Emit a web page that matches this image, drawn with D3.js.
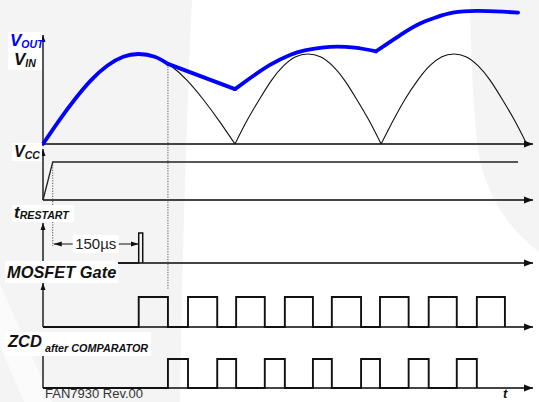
<!DOCTYPE html>
<html>
<head>
<meta charset="utf-8">
<script src="https://cdn.jsdelivr.net/npm/d3@7"></script>
<style>
  html, body { margin: 0; padding: 0; background: #fff; }
  svg { display: block; }
  text { font-family: "Liberation Sans", Arial, sans-serif; }
</style>
</head>
<body>
<svg id="chart" width="539" height="402"></svg>
<script>
// ---- timing data (microseconds) and normalised levels ----
// rectified line voltage, one array pair per half-cycle
const vinHump1T = [0, 28, 56, 84, 112, 140, 167, 195, 223, 251, 279, 307, 335];
const vinHump1V = [0, 0.26, 0.50, 0.71, 0.87, 0.97, 1.00, 0.97, 0.87, 0.71, 0.50, 0.26, 0];
const vinHump2T = [335, 356, 378, 399, 420, 441, 462, 484, 505, 526, 547, 569, 590];
const vinHump2V = [0, 0.26, 0.50, 0.71, 0.87, 0.97, 1.00, 0.97, 0.87, 0.71, 0.50, 0.26, 0];
const vinHump3T = [590, 611, 632, 654, 675, 696, 717, 738, 759, 780, 801, 823, 844];
const vinHump3V = [0, 0.26, 0.50, 0.71, 0.87, 0.97, 1.00, 0.97, 0.87, 0.71, 0.50, 0.26, 0];

// output voltage: charge through the line, hold-up droop, then boost steps
const voutChargeT = [0, 28, 56, 84, 112, 140, 167, 195, 218];
const voutChargeV = [0, 0.26, 0.50, 0.71, 0.87, 0.97, 1.00, 0.97, 0.89];
const voutDroopT  = [218, 335];
const voutDroopV  = [0.89, 0.61];
const voutRise1T  = [335, 361, 396, 431, 457, 501, 544, 581];
const voutRise1V  = [0.61, 0.73, 0.88, 0.99, 1.04, 1.08, 1.07, 1.03];
const voutRise2T  = [581, 628, 658, 687, 715, 757, 802, 829];
const voutRise2V  = [1.03, 1.23, 1.34, 1.41, 1.46, 1.48, 1.47, 1.46];

// supply rail
const vccT = [0, 17, 829];
const vccV = [0, 1, 1];

// restart timer pulse and its delay from VCC good
const restartPulse = [167, 174];
const restartDelayUs = 150;
const restartDelayLabel = "150µs";

// gate drive and ZCD comparator output (on-intervals)
const gateOn = [[167, 218], [253, 304], [337, 387], [422, 471], [504, 555], [588, 638], [673, 722], [757, 806]];
const zcdOn  = [[218, 253], [304, 337], [387, 422], [471, 504], [555, 588], [638, 673], [722, 757]];

const tEnd = 855;

// ---- layout ----
const svg = d3.select("#chart");
const x = d3.scaleLinear().domain([0, tEnd]).range([43, 533]);
const axisX0 = x(0);

const yTop   = d3.scaleLinear().domain([0, 1]).range([144, 54]);
const yVcc   = d3.scaleLinear().domain([0, 1]).range([200, 162]);
const yRst   = d3.scaleLinear().domain([0, 1]).range([263, 233]);
const yGate  = d3.scaleLinear().domain([0, 1]).range([327, 297]);
const yZcd   = d3.scaleLinear().domain([0, 1]).range([388, 359]);

// ---- background watermark ----
const bg = svg.append("g");
bg.append("rect").attr("width", 539).attr("height", 402).attr("fill", "#fff");
bg.append("path").attr("d", "M0,0 L192,0 C186,130 182,270 180,402 L0,402 Z").attr("fill", "#f4f4f4");
bg.append("path").attr("d", "M0,284 L52,402 L24,402 L0,346 Z").attr("fill", "#fbfbfb");
bg.append("path").attr("d", "M470,0 L539,0 L539,252 C510,230 486,198 478,150 C473,110 471,60 470,0 Z").attr("fill", "#f4f4f4");

// ---- arrow markers ----
const defs = svg.append("defs");
defs.append("marker").attr("id", "arrX")
  .attr("markerUnits", "userSpaceOnUse").attr("markerWidth", 10).attr("markerHeight", 8)
  .attr("refX", 9).attr("refY", 4).attr("orient", "auto")
  .append("path").attr("d", "M0,0.5 L9,4 L0,7.5 Z").attr("fill", "#111");
defs.append("marker").attr("id", "arrY")
  .attr("markerUnits", "userSpaceOnUse").attr("markerWidth", 8).attr("markerHeight", 6)
  .attr("refX", 7).attr("refY", 3).attr("orient", "auto")
  .append("path").attr("d", "M0,0.5 L7,3 L0,5.5 Z").attr("fill", "#111");
defs.append("marker").attr("id", "arrDim")
  .attr("markerUnits", "userSpaceOnUse").attr("markerWidth", 9).attr("markerHeight", 6)
  .attr("refX", 8).attr("refY", 3).attr("orient", "auto-start-reverse")
  .append("path").attr("d", "M0,0.5 L8,3 L0,5.5 Z").attr("fill", "#111");

// ---- axes (one pair per trace) ----
const panels = [
  { y: yTop,  yAxisTop: 35,  xAxisEnd: 533 },
  { y: yVcc,  yAxisTop: 149, xAxisEnd: 533 },
  { y: yRst,  yAxisTop: 223, xAxisEnd: 533 },
  { y: yGate, yAxisTop: 283, xAxisEnd: 533 },
  { y: yZcd,  yAxisTop: 344, xAxisEnd: 533 }
];
const axes = svg.append("g");
panels.forEach(p => {
  const base = p.y(0);
  axes.append("line")
    .attr("x1", axisX0).attr("y1", base).attr("x2", p.xAxisEnd).attr("y2", base)
    .attr("stroke", "#444").attr("stroke-width", 1.8).attr("marker-end", "url(#arrX)");
  axes.append("line")
    .attr("x1", axisX0).attr("y1", base).attr("x2", axisX0).attr("y2", p.yAxisTop)
    .attr("stroke", "#444").attr("stroke-width", 1.8).attr("marker-end", "url(#arrY)");
});

const zip = (ts, vs) => ts.map((t, i) => [t, vs[i]]);

// ---- top trace: VIN and VOUT ----
const lineTop = d3.line().x(d => x(d[0])).y(d => yTop(d[1])).curve(d3.curveNatural);
[[vinHump1T, vinHump1V], [vinHump2T, vinHump2V], [vinHump3T, vinHump3V]].forEach(([ts, vs]) => {
  svg.append("path").attr("d", lineTop(zip(ts, vs)))
    .attr("fill", "none").attr("stroke", "#111").attr("stroke-width", 1.1);
});

// dotted markers
const dots = svg.append("g").attr("stroke", "#555").attr("stroke-width", 1).attr("stroke-dasharray", "1.2,1.4");
dots.append("line").attr("x1", x(vccT[1])).attr("x2", x(vccT[1]))
  .attr("y1", yVcc(1)).attr("y2", 246);
dots.append("line").attr("x1", x(voutChargeT[voutChargeT.length - 1])).attr("x2", x(voutChargeT[voutChargeT.length - 1]))
  .attr("y1", yTop(voutChargeV[voutChargeV.length - 1])).attr("y2", 289);

const voutSegs = [
  [voutChargeT, voutChargeV, d3.curveNatural],
  [voutDroopT, voutDroopV, d3.curveLinear],
  [voutRise1T, voutRise1V, d3.curveNatural],
  [voutRise2T, voutRise2V, d3.curveNatural]
];
voutSegs.forEach(([ts, vs, c]) => {
  svg.append("path")
    .attr("d", d3.line().x(d => x(d[0])).y(d => yTop(d[1])).curve(c)(zip(ts, vs)))
    .attr("fill", "none").attr("stroke", "#0000ff").attr("stroke-width", 3.8)
    .attr("stroke-linejoin", "round").attr("stroke-linecap", "round");
});

// ---- VCC ----
svg.append("path")
  .attr("d", d3.line().x(d => x(d[0])).y(d => yVcc(d[1]))(zip(vccT, vccV)))
  .attr("fill", "none").attr("stroke", "#222").attr("stroke-width", 1.3);

// ---- pulse trains ----
function pulsePoints(intervals) {
  const pts = [[0, 0]];
  intervals.forEach(([a, b]) => { pts.push([a, 0], [a, 1], [b, 1], [b, 0]); });
  return pts;
}
function drawPulses(intervals, yS, w) {
  svg.append("path")
    .attr("d", d3.line().x(d => x(d[0])).y(d => yS(d[1]))(pulsePoints(intervals)))
    .attr("fill", "none").attr("stroke", "#111").attr("stroke-width", w)
    .attr("stroke-linejoin", "miter");
}
drawPulses([restartPulse], yRst, 1.5);
drawPulses(gateOn, yGate, 1.9);
drawPulses(zcdOn, yZcd, 1.9);

// ---- 150 µs dimension ----
const dimY = 244;
const dimStart = vccT[1], dimEnd = vccT[1] + restartDelayUs;
svg.append("line")
  .attr("x1", x(dimStart) + 1).attr("x2", x(dimEnd)).attr("y1", dimY).attr("y2", dimY)
  .attr("stroke", "#111").attr("stroke-width", 1)
  .attr("marker-start", "url(#arrDim)").attr("marker-end", "url(#arrDim)");
const dimMid = (x(dimStart) + x(dimEnd)) / 2;
svg.append("rect").attr("x", dimMid - 23).attr("y", dimY - 9).attr("width", 46).attr("height", 18).attr("fill", "#fff");
svg.append("text").attr("x", dimMid).attr("y", dimY + 5).attr("text-anchor", "middle")
  .attr("font-size", 15).attr("fill", "#222").text(restartDelayLabel);

// ---- labels ----
function labelBox(x0, y0, w, h) {
  svg.append("rect").attr("x", x0).attr("y", y0).attr("width", w).attr("height", h).attr("fill", "#fff");
}
labelBox(8, 32, 34, 38);
labelBox(12, 143, 30, 18);
labelBox(12, 205, 62, 17);
labelBox(5, 261, 113, 22);
labelBox(5, 332, 146, 24);

function subLabel(x0, yBase, main, sub, mainSize, subSize, subDy, color) {
  const t = svg.append("text").attr("x", x0).attr("y", yBase)
    .attr("font-weight", "bold").attr("font-style", "italic").attr("fill", color);
  t.append("tspan").attr("font-size", mainSize).text(main);
  if (sub) t.append("tspan").attr("font-size", subSize).attr("dy", subDy).text(sub);
  return t;
}
subLabel(10, 46, "V", "OUT", 17, 10.5, 1.5, "#0000ff");
subLabel(14, 65, "V", "IN", 17, 10.5, 1.5, "#111");
subLabel(14, 157, "V", "CC", 16, 10.5, 1.5, "#111");
subLabel(14, 218, "t", "RESTART", 17, 10.6, 1, "#111");
subLabel(7, 278, "MOSFET Gate", null, 16.4, 0, 0, "#111");
svg.append("text").attr("x", 8).attr("y", 347)
  .attr("font-weight", "bold").attr("font-style", "italic").attr("fill", "#111")
  .call(t => {
    t.append("tspan").attr("font-size", 16.5).text("ZCD");
    t.append("tspan").attr("font-size", 10.8).attr("dx", 3).attr("dy", 5).text("after COMPARATOR");
  });

svg.append("text").attr("x", 503).attr("y", 398)
  .attr("font-weight", "bold").attr("font-style", "italic").attr("font-size", 13).attr("fill", "#111").text("t");
svg.append("text").attr("x", 45).attr("y", 398)
  .attr("font-size", 13).attr("fill", "#333").text("FAN7930 Rev.00");
</script>
</body>
</html>
